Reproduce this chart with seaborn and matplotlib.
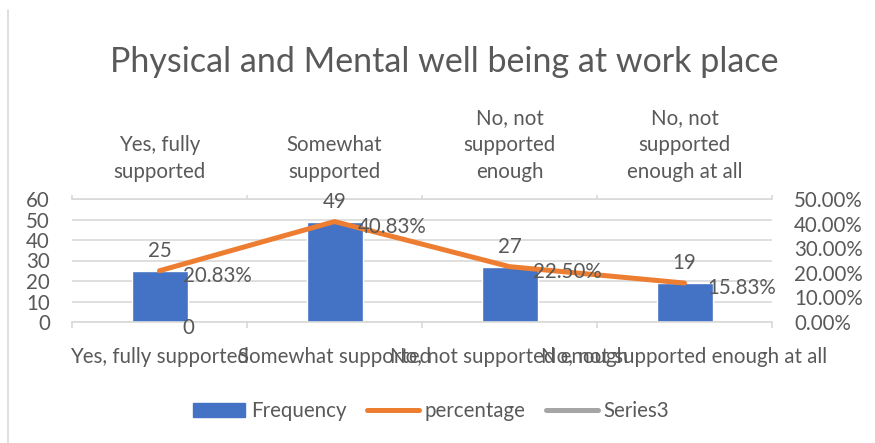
import numpy as np
import pandas as pd
import seaborn as sns
import matplotlib.pyplot as plt
from matplotlib.lines import Line2D
from matplotlib.patches import Patch

# Chart data
categories = ["Yes, fully supported", "Somewhat supported",
              "No, not supported enough", "No, not supported enough at all"]
top_labels = ["Yes, fully\nsupported", "Somewhat\nsupported",
              "No, not\nsupported\nenough", "No, not\nsupported\nenough at all"]
frequency = [25, 49, 27, 19]
percentage = [0.2083, 0.4083, 0.2250, 0.1583]
series3 = [0]

df = pd.DataFrame({"pos": np.arange(len(categories)), "Frequency": frequency,
                   "percentage": percentage})
s3 = pd.DataFrame({"pos": np.arange(len(series3)), "Series3": series3})

sns.set_style("white")
plt.rcParams['font.family'] = ['Lato', 'DejaVu Sans']
txt = '#595959'
grid = '#D9D9D9'
blue, orange, gray = '#4472C4', '#ED7D31', '#A5A5A5'
fs = 14.8

fig = plt.figure(figsize=(8.75, 4.43), dpi=100)
ax = fig.add_axes([72/875, 121/443, 700/875, 123/443])

sns.barplot(data=df, x="pos", y="Frequency", color=blue, width=0.32,
            saturation=1, native_scale=True, ax=ax)
ax.set_xlim(-0.5, 3.5)
ax.set_ylim(0, 60)
ax.set_yticks(np.arange(0, 61, 10))
ax.yaxis.grid(True, color=grid, linewidth=1.2)
ax.set_axisbelow(True)
ax.set_xlabel('')
ax.set_ylabel('')
ax.bar_label(ax.containers[0], padding=7, fontsize=fs, color=txt)

ax.set_xticks(np.arange(4))
ax.set_xticklabels(categories)
ax.set_xticks(np.arange(-0.5, 4, 1), minor=True)
ax.tick_params(axis='x', which='major', length=0, pad=18, labelsize=fs, labelcolor=txt)
ax.tick_params(axis='x', which='minor', length=4, color=grid, width=1.2)
ax.tick_params(axis='y', length=0, pad=16, labelsize=fs, labelcolor=txt)
for s in ['left', 'right']:
    ax.spines[s].set_visible(False)
for s in ['top', 'bottom']:
    ax.spines[s].set_color(grid)
    ax.spines[s].set_linewidth(1.2)

# secondary y axis with percentage line
ax2 = ax.twinx()
sns.lineplot(data=df, x="pos", y="percentage", color=orange, linewidth=3.6,
             solid_capstyle='round', ax=ax2)
sns.lineplot(data=s3, x="pos", y="Series3", color=gray, linewidth=3.6, ax=ax2)
ax2.set_ylim(0, 0.5)
ax2.set_yticks(np.arange(0, 0.51, 0.1))
ax2.set_yticklabels([f"{v:.2%}" for v in np.arange(0, 0.51, 0.1)])
ax2.tick_params(axis='y', length=0, pad=16, labelsize=fs, labelcolor=txt)
ax2.set_ylabel('')
for s in ax2.spines.values():
    s.set_visible(False)
for x, v in zip(df["pos"], percentage):
    ax2.annotate(f"{v:.2%}", (x, v), xytext=(23, -5), textcoords='offset pixels',
                 ha='left', va='center', fontsize=fs, color=txt)
for x, v in zip(s3["pos"], series3):
    ax2.annotate(f"{v}", (x, v), xytext=(23, -6), textcoords='offset pixels',
                 ha='left', va='center', fontsize=fs, color=txt)

# top category axis
ax3 = ax.twiny()
ax3.set_xlim(ax.get_xlim())
ax3.set_xticks(np.arange(4))
ax3.set_xticklabels(top_labels, linespacing=1.45)
ax3.set_xticks(np.arange(-0.5, 4, 1), minor=True)
ax3.tick_params(axis='x', which='major', length=0, pad=12, labelsize=fs, labelcolor=txt)
ax3.tick_params(axis='x', which='minor', length=3, color=grid, width=1.2)
for s in ax3.spines.values():
    s.set_visible(False)

fig.suptitle("Physical and Mental well being at work place", x=0.508, y=0.86,
             va='center', fontsize=24.5, color=txt)

handles = [Patch(color=blue), Line2D([], [], color=orange, linewidth=3.6),
           Line2D([], [], color=gray, linewidth=3.6)]
fig.legend(handles, ["Frequency", "percentage", "Series3"], loc='center',
           bbox_to_anchor=(0.493, 0.072), ncol=3, frameon=False, fontsize=fs,
           labelcolor=txt, handlelength=2.5, handletextpad=0.3, columnspacing=1.0)

fig.add_artist(Line2D([8/875, 8/875], [0, 433/443], color=grid, linewidth=1.2))

fig.savefig("out.png", dpi=100)
